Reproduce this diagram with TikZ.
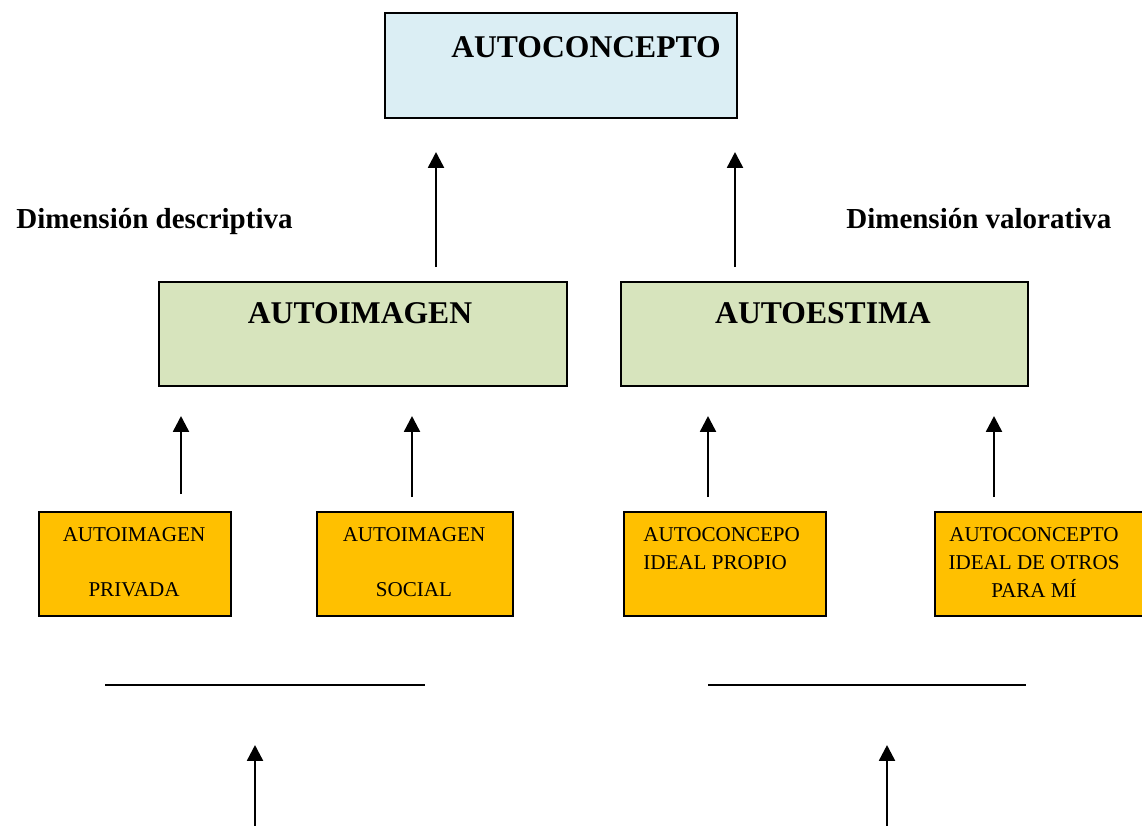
\documentclass[tikz,border=0pt]{standalone}
\usepackage{fontspec}
\setmainfont{Liberation Serif}
\usetikzlibrary{arrows.meta}
\newcommand{\pxu}{0.02cm}
\definecolor{conceptblue}{HTML}{DBEEF4}
\definecolor{dimgreen}{HTML}{D7E4BD}
\definecolor{partorange}{HTML}{FFC000}
\begin{document}
\begin{tikzpicture}[x=0.02cm,y=-0.02cm,
  box/.style={draw=black,line width=1.3pt,inner sep=0pt,anchor=north west},
  topbox/.style={box,fill=conceptblue},
  midbox/.style={box,fill=dimgreen},
  lowbox/.style={box,fill=partorange},
  headtext/.style={inner sep=0pt,anchor=base,font=\fontsize{18}{21}\selectfont\bfseries},
  dimtext/.style={inner sep=0pt,anchor=base west,font=\fontsize{16.5}{19}\selectfont\bfseries},
  smalltext/.style={inner sep=0pt,anchor=base,font=\fontsize{12}{14}\selectfont},
  uparrow/.style={line width=1.4pt,-{Triangle[length=9pt,width=9pt]}},
  rule/.style={line width=1.4pt}
]
\useasboundingbox (0,0) rectangle (1142,825);

% boxes
\node[topbox,minimum width=352*\pxu,minimum height=105*\pxu] (concept) at (384,12) {};
\node[midbox,minimum width=408*\pxu,minimum height=104*\pxu] (image) at (158,281) {};
\node[midbox,minimum width=407*\pxu,minimum height=104*\pxu] (esteem) at (620,281) {};
\node[lowbox,minimum width=192*\pxu,minimum height=104*\pxu] (private) at (38,511) {};
\node[lowbox,minimum width=196*\pxu,minimum height=104*\pxu] (social) at (316,511) {};
\node[lowbox,minimum width=202*\pxu,minimum height=104*\pxu] (ownideal) at (623,511) {};
\node[lowbox,minimum width=214*\pxu,minimum height=104*\pxu] (othersideal) at (934,511) {};

% box texts
\node[headtext] (conceptT) at (586,57) {AUTOCONCEPTO};
\node[headtext] (imageT) at (360,323) {AUTOIMAGEN};
\node[headtext] (esteemT) at (823,323) {AUTOESTIMA};

\node[smalltext] (privateA) at (134,541) {AUTOIMAGEN};
\node[smalltext] (privateB) at (134,596) {PRIVADA};
\node[smalltext] (socialA) at (414,541) {AUTOIMAGEN};
\node[smalltext] (socialB) at (414,596) {SOCIAL};
\node[smalltext,anchor=base west] (ownA) at (643,541) {AUTOCONCEPO};
\node[smalltext,anchor=base west] (ownB) at (643,569) {IDEAL PROPIO};
\node[smalltext] (othersA) at (1034,541) {AUTOCONCEPTO};
\node[smalltext] (othersB) at (1034,569) {IDEAL DE OTROS};
\node[smalltext] (othersC) at (1034,597) {PARA MÍ};

% dimension labels
\node[dimtext] (descr) at (16,228) {Dimensión descriptiva};
\node[dimtext] (valor) at (846,228) {Dimensión valorativa};

% arrow end points
\coordinate (a1s) at (436,267); \coordinate (a1e) at (436,152);
\coordinate (a2s) at (735,267); \coordinate (a2e) at (735,152);
\coordinate (a3s) at (181,494); \coordinate (a3e) at (181,416);
\coordinate (a4s) at (412,497); \coordinate (a4e) at (412,416);
\coordinate (a5s) at (708,497); \coordinate (a5e) at (708,416);
\coordinate (a6s) at (994,497); \coordinate (a6e) at (994,416);
\coordinate (a7s) at (255,826); \coordinate (a7e) at (255,745);
\coordinate (a8s) at (887,826); \coordinate (a8e) at (887,745);
\coordinate (l1s) at (105,685); \coordinate (l1e) at (425,685);
\coordinate (l2s) at (708,685); \coordinate (l2e) at (1026,685);

\foreach \k in {1,...,8} \draw[uparrow] (a\k s) -- (a\k e);
\draw[rule] (l1s) -- (l1e);
\draw[rule] (l2s) -- (l2e);
\end{tikzpicture}
\end{document}
